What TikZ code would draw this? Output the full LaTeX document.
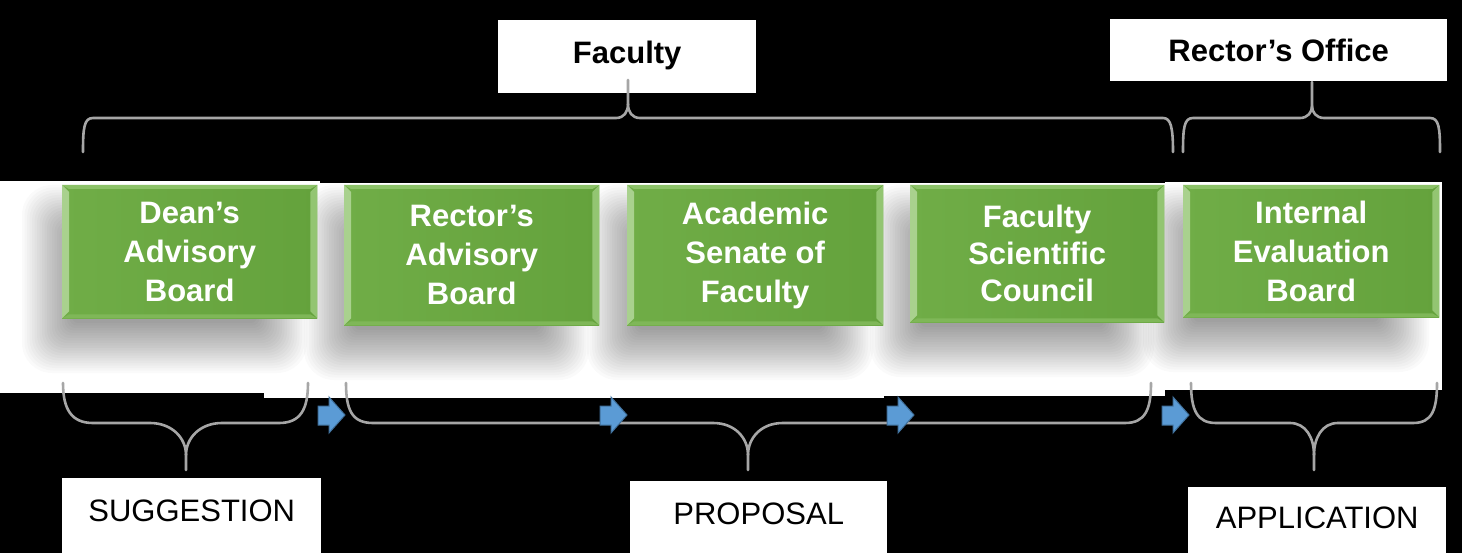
\documentclass[tikz,border=0pt]{standalone}
\usepackage{fontspec}
\setmainfont{Liberation Sans}
\usetikzlibrary{calc}
\definecolor{gface}{HTML}{70AD47}
\definecolor{gfacedark}{HTML}{64A23C}
\definecolor{glight}{HTML}{A9D18E}
\definecolor{gright}{HTML}{93C572}
\definecolor{gtop}{HTML}{8CC268}
\definecolor{gbot}{HTML}{7FB758}
\definecolor{bracegray}{HTML}{A6A6A6}
\definecolor{arrowblue}{HTML}{5B9BD5}
\definecolor{arrowedge}{HTML}{41719C}
\begin{document}
\begin{tikzpicture}[x=1pt,y=-1pt,
  gbox/.style={left color=gface, right color=gfacedark, draw=none, inner sep=0pt, anchor=north west, text=white},
  lbl/.style={fill=white, draw=none, inner sep=0pt, anchor=north west, text height=22pt, text=black},
  brc/.style={draw=bracegray, line width=2.6pt, line cap=round, line join=round},
  blk/.style={fill=arrowblue, draw=arrowedge, line width=1pt, line join=miter}]
\useasboundingbox (0,0) rectangle (1462,553);
\fill[black] (0,0) rectangle (1462,553);
% white band
\fill[white] (0,181) rectangle (320,393);
\fill[white] (264,183) rectangle (884,398);
\fill[white] (884,183) rectangle (1165,396);
\fill[white] (1165,182) rectangle (1442,390);
% shadows
\foreach \xa/\ya/\xb/\yb in {62/185/317/318, 344/185/599/325, 627/185/883/325, 910/185/1164/322, 1183/185/1439/317}{
  \foreach \i in {0,...,20}{
    \fill[black, opacity=0.018, rounded corners={30-1.2*\i}] ({\xa-40+2.5*\i},{\ya+2.5*\i}) rectangle ({\xb-10-2.5*\i},{\yb+55-2.5*\i});
  }
}
% green boxes
\foreach \nm/\xa/\ya/\xb/\yb/\bs/\txt in {
  b1/62/185/317/318/39/{Dean’s\\Advisory\\Board},
  b2/344/185/599/325/39/{Rector’s\\Advisory\\Board},
  b3/627/185/883/325/39/{Academic\\Senate of\\Faculty},
  b4/910/185/1164/322/37/{Faculty\\Scientific\\Council},
  b5/1183/185/1439/317/39/{Internal\\Evaluation\\Board}}{
  \pgfmathsetmacro\bw{\xb-\xa}
  \pgfmathsetmacro\bh{\yb-\ya}
  \node[gbox, minimum width=\bw pt, minimum height=\bh pt, align=center,
        font={\fontsize{31}{\bs}\selectfont\bfseries}] (\nm) at (\xa,\ya) {\txt};
  \fill[gtop] (\nm.north west) -- (\nm.north east) -- ++(-7,4) -- ($(\nm.north west)+(7,4)$) -- cycle;
  \fill[gbot] (\nm.south west) -- (\nm.south east) -- ++(-7,-4) -- ($(\nm.south west)+(7,-4)$) -- cycle;
  \fill[glight] (\nm.north west) -- ++(7,7) -- ($(\nm.south west)+(7,-7)$) -- (\nm.south west) -- cycle;
  \fill[gright] (\nm.north east) -- ++(-7,7) -- ($(\nm.south east)+(-7,-7)$) -- (\nm.south east) -- cycle;
}
% labels
\node[lbl, minimum width=258pt, minimum height=73pt, text depth=9pt, font=\fontsize{31}{37}\selectfont\bfseries] (fac) at (498,20) {Faculty};
\node[lbl, minimum width=337pt, minimum height=62pt, text depth=0pt, font=\fontsize{31}{37}\selectfont\bfseries] (ro) at (1110,19) {Rector’s Office};
\node[lbl, minimum width=259pt, minimum height=75pt, text depth=11pt, font=\fontsize{31}{37}\selectfont] (sug) at (62,478) {SUGGESTION};
\node[lbl, minimum width=257pt, minimum height=72pt, text depth=8pt, font=\fontsize{31}{37}\selectfont] (prop) at (630,481) {PROPOSAL};
\node[lbl, minimum width=258pt, minimum height=66pt, text depth=6pt, font=\fontsize{31}{37}\selectfont] (app) at (1188,487) {APPLICATION};
% top braces
\draw[brc] (83,152) .. controls (83,128) and (84,118) .. (93,118) -- (616,118) .. controls (624,118) and (628,112) .. (628,104) -- (628,80);
\draw[brc] (628,104) .. controls (628,112) and (632,118) .. (640,118) -- (1163,118) .. controls (1171,118) and (1173,128) .. (1173,152);
\draw[brc] (1183,152) .. controls (1183,128) and (1184,118) .. (1193,118) -- (1300,118) .. controls (1308,118) and (1312,112) .. (1312,106) -- (1312,82);
\draw[brc] (1312,106) .. controls (1312,112) and (1316,118) .. (1324,118) -- (1430,118) .. controls (1439,118) and (1440,128) .. (1440,152);
% bottom braces
\draw[brc] (63,383) .. controls (63,410) and (72,423) .. (93,423) -- (150,423) .. controls (172,423) and (186,438) .. (186,455) -- (186,470);
\draw[brc] (186,455) .. controls (186,438) and (200,423) .. (222,423) -- (279,423) .. controls (300,423) and (308,410) .. (308,383);
\draw[brc] (346,383) .. controls (346,410) and (352,423) .. (373,423) -- (713,423) .. controls (735,423) and (748,438) .. (748,455) -- (748,470);
\draw[brc] (748,455) .. controls (748,438) and (761,423) .. (783,423) -- (1125,423) .. controls (1145,423) and (1151,410) .. (1151,383);
\draw[brc] (1191,383) .. controls (1191,410) and (1197,423) .. (1216,423) -- (1290,423) .. controls (1306,423) and (1314,438) .. (1314,455) -- (1314,470);
\draw[brc] (1314,455) .. controls (1314,438) and (1322,423) .. (1338,423) -- (1413,423) .. controls (1432,423) and (1437,410) .. (1437,383);
% blue arrows
\foreach \ax in {318,600,887,1162}{
  \draw[blk] (\ax,406) -- ({\ax+11},406) -- ({\ax+11},397) -- ({\ax+27},415) -- ({\ax+11},433) -- ({\ax+11},425) -- (\ax,425) -- cycle;
}
\end{tikzpicture}
\end{document}
